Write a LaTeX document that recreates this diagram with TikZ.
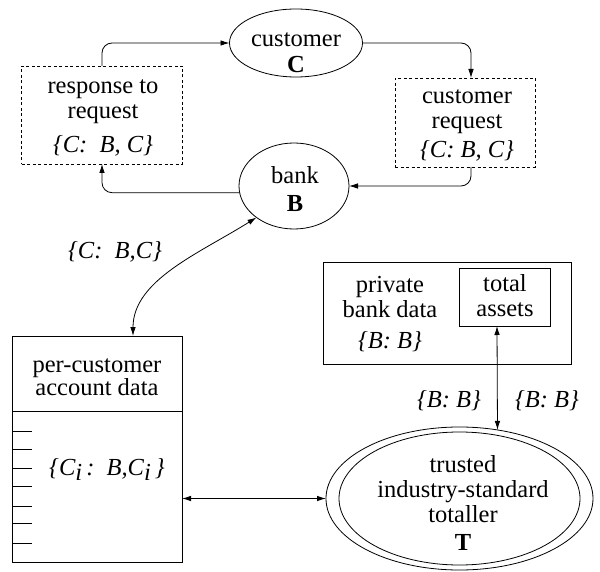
\documentclass[tikz,border=0pt]{standalone}
\usepackage{fontspec}
\setmainfont{Liberation Serif}
\usetikzlibrary{arrows.meta,shapes.geometric,calc}
\begin{document}
\begin{tikzpicture}[x=1pt,y=-1pt,
  every node/.style={inner sep=0pt,outer sep=0pt},
  txt/.style={align=center,font=\fontsize{24.5}{25}\selectfont},
  lbl/.style={font=\fontsize{24.5}{25}\selectfont\itshape},
  oval/.style={draw,ellipse,line width=0.8pt},
  dbox/.style={draw,rectangle,dash pattern=on 3pt off 2.5pt,line width=0.8pt},
  sbox/.style={draw,rectangle,line width=0.8pt},
  conn/.style={line width=0.8pt,-{Latex[length=9pt,width=5.5pt]}},
  bconn/.style={line width=0.8pt,{Latex[length=9pt,width=5.5pt]}-{Latex[length=9pt,width=5.5pt]}}
]
\useasboundingbox (0,0) rectangle (600,572);

% top cycle
\node[oval,minimum width=133pt,minimum height=68pt] (cust) at (296,43) {};
\node[txt] (custt) at (296,53) {customer\\[1pt]\textbf{C}};
\node[oval,minimum width=110pt,minimum height=86pt] (bank) at (294,186) {};
\node[txt] (bankt) at (295,189) {bank\\[3pt]\textbf{B}};
\node[dbox,minimum width=161pt,minimum height=98pt] (resp) at (102,115) {};
\node[txt] (respt) at (103,118) {response to\\request\\[9pt]\textit{\{C:\ \ B, C\}}};
\node[dbox,minimum width=140pt,minimum height=89pt] (req) at (465,122.5) {};
\node[txt] (reqt) at (467,125.7) {customer\\request\\[4pt]\textit{\{C: B, C\}}};

\draw[conn,rounded corners=10pt] (resp.north) |- (cust.west);
\draw[conn,rounded corners=10pt] (cust.east) -| ([xshift=6pt]req.north);
\draw[conn,rounded corners=10pt] ([xshift=6pt]req.south) |- (bank.east);
\draw[conn,rounded corners=10pt] (bank.187) -| (resp.south);

% per-customer data
\node[lbl] (l1) at (115,252) {\{C:\ \ B,C\}};
\node[sbox,minimum width=170pt,minimum height=226pt] (pcad) at (97,449) {};
\node[txt] (pcadt) at (97,377) {per-customer\\[-2pt]account data};
\node[lbl] (ci) at (107,469) {\{C\raisebox{-5pt}{i}\,:\ \ B,C\raisebox{-5pt}{i}\,\}};
\draw[line width=0.8pt] (pcad.west |- 0,411) -- (pcad.east |- 0,411);
\foreach \yy in {431,449,468,486,506,523,543}
  \draw[line width=0.8pt] (pcad.west |- 0,\yy) -- ++(20,0);
\coordinate (pa) at (133,336);
\draw[bconn] (bank.220) .. controls (200,253) and (133,280) .. (pa);

% private bank data
\node[sbox,minimum width=248pt,minimum height=102pt] (pb) at (447,313) {};
\node[txt] (pbt) at (390,314) {private\\bank data\\[6pt]\textit{\{B: B\}}};
\node[sbox,minimum width=91pt,minimum height=58pt] (ta) at (504.5,297) {};
\node[txt] (tat) at (505,296) {total\\assets};

% totaller
\node[oval,minimum width=267pt,minimum height=143pt] (tt) at (459.5,498.5) {};
\node[oval,minimum width=241pt,minimum height=133pt] (tti) at (459.5,498.5) {};
\node[txt] (ttt) at (463,503) {trusted\\industry-standard\\totaller\\[3pt]\textbf{T}};
\node[lbl] (l2) at (449,401) {\{B: B\}};
\node[lbl] (l3) at (547,401) {\{B: B\}};

\draw[bconn] (pcad.east |- tt.west) -- (tt.west);
\draw[bconn] ([xshift=-7.5pt]ta.south) -- (tt.61);
\end{tikzpicture}
\end{document}
